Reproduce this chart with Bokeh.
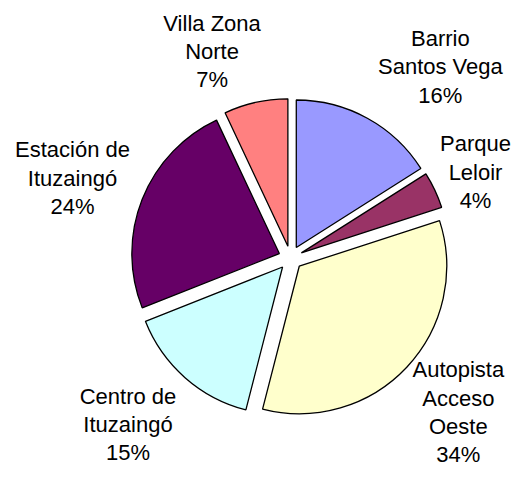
import math
from bokeh.plotting import figure
from bokeh.models import Range1d, ColumnDataSource
from bokeh.core.properties import value
from bokeh.embed import file_html
from bokeh.resources import INLINE

# ---- data ----
categories = ["Barrio\nSantos Vega", "Parque\nLeloir", "Autopista\nAcceso\nOeste",
              "Centro de\nItuzaingó", "Estación de\nItuzaingó", "Villa Zona\nNorte"]
percents = [16, 4, 34, 15, 24, 7]
colors = ["#9999FF", "#993366", "#FFFFCC", "#CCFFFF", "#660066", "#FF8080"]

# ---- layout / style ----
W, H = 512, 473
CX, CY = 290.0, H - 257.5   # pie centre (data units = px)
R = 147.5
EXPLODE = 12.0
label_r = [242.9, 204.0, 228.0, 232.7, 232.2, 220.9]
label_shift = [9.3, 0.3, -0.6, 2.9, -1.45, -8.2]   # degrees, clockwise

total = float(sum(percents))
starts, ends, xs, ys, lx, ly, texts = [], [], [], [], [], [], []
cum = 0.0
for i, v in enumerate(percents):
    a0 = cum / total * 360.0          # clockwise from top
    a1 = (cum + v) / total * 360.0
    mid = (a0 + a1) / 2.0
    cum += v
    # bokeh angles: counter-clockwise from +x
    starts.append(math.radians(90.0 - a1))
    ends.append(math.radians(90.0 - a0))
    m = math.radians(mid)
    xs.append(CX + EXPLODE * math.sin(m))
    ys.append(CY + EXPLODE * math.cos(m))
    la = math.radians(mid + label_shift[i])
    lx.append(CX + label_r[i] * math.sin(la))
    ly.append(CY + label_r[i] * math.cos(la))
    texts.append(f"{categories[i]}\n{v}%")

src = ColumnDataSource(dict(x=xs, y=ys, start=starts, end=ends, color=colors))
lsrc = ColumnDataSource(dict(x=lx, y=ly, text=texts))

p = figure(width=W, height=H, x_range=Range1d(0, W), y_range=Range1d(0, H),
           output_backend="svg", toolbar_location=None, min_border=0)
p.axis.visible = False
p.grid.visible = False
p.outline_line_color = None
p.background_fill_color = "white"

p.wedge(x="x", y="y", radius=R, start_angle="start", end_angle="end",
        fill_color="color", line_color="black", line_width=1.3, source=src)

p.text(x="x", y="y", text="text", source=lsrc, text_align="center",
       text_baseline="middle", text_font=value("Liberation Sans"),
       text_font_size="22px", text_line_height=1.13, text_color="black")

open("out.html", "w").write(file_html(p, INLINE))
